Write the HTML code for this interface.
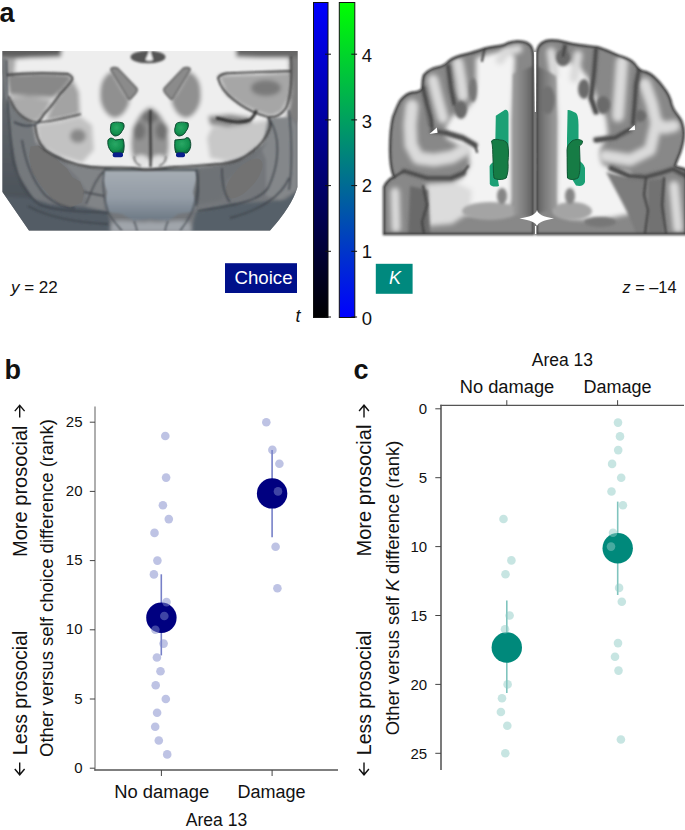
<!DOCTYPE html>
<html><head><meta charset="utf-8"><style>
html,body{margin:0;padding:0;background:#fff;width:685px;height:830px;overflow:hidden}
svg{display:block}
text{font-family:"Liberation Sans", sans-serif;fill:#111}
</style></head><body>
<svg width="685" height="830" viewBox="0 0 685 830">
<defs>
<clipPath id="clL"><path d="M2.5,51 H297.5 V187 Q292,206 270,230.5 H29 L2.5,192 Z"/></clipPath>
<filter id="b4" x="-20%" y="-20%" width="140%" height="140%"><feGaussianBlur stdDeviation="3.5"/></filter>
<filter id="b2" x="-20%" y="-20%" width="140%" height="140%"><feGaussianBlur stdDeviation="2"/></filter>
<filter id="b15" x="-20%" y="-20%" width="140%" height="140%"><feGaussianBlur stdDeviation="1.4"/></filter>
<filter id="b1" x="-20%" y="-20%" width="140%" height="140%"><feGaussianBlur stdDeviation="0.8"/></filter>
<filter id="b05" x="-20%" y="-20%" width="140%" height="140%"><feGaussianBlur stdDeviation="0.5"/></filter>
<linearGradient id="bgL" x1="0" y1="0" x2="0" y2="1"><stop offset="0" stop-color="#a6adb4"/><stop offset="0.55" stop-color="#939ca6"/><stop offset="1" stop-color="#6c7884"/></linearGradient>
<radialGradient id="grL" cx="0.45" cy="0.4" r="0.6"><stop offset="0" stop-color="#2aa865"/><stop offset="0.7" stop-color="#13914f"/><stop offset="1" stop-color="#0c6e3e"/></radialGradient>
<linearGradient id="lsL" x1="0" y1="0" x2="0" y2="1"><stop offset="0" stop-color="#77797c"/><stop offset="0.35" stop-color="#5f6469"/><stop offset="1" stop-color="#4a5158"/></linearGradient>
</defs>
<g clip-path="url(#clL)">
<rect x="0" y="49" width="300" height="184" fill="#74777b"/>
<g filter="url(#b2)">
<path d="M-5,45 H305 V60 L290,62 L290,118 L272,120 L268,140 L246,156 L222,164 L150,170 L100,168 L75,166 L50,154 L36,140 L34,124 L9,100 L-5,100 Z" fill="#eeeeee"/>
<path d="M-5,45 L62,45 L61,57 L30,58 L-5,60 Z" fill="#5f5f5f"/>
<path d="M236,45 L305,45 L305,58 L262,58 L236,57 Z" fill="#666"/>
<path d="M-5,58 L16,58 L14,75 L-5,75 Z" fill="#a8a8a8"/>
<path d="M289,57 L305,57 L305,125 L286,118 L290,100 Z" fill="#7e7e7e"/>
<path d="M6,74 L40,73 L68,74 L73,78 L62,91 L53,98 L30,96 L9,95 Z" fill="#888888"/>
<path d="M9,97 L30,96 L52,100 L46,112 L38,122 L28,121 L15,112 Z" fill="#aaaaaa"/>
<path d="M54,101 L62,92 L73,80 L79,92 L80,114 L65,118 L45,121 Z" fill="#a3a3a3"/>
<path d="M36,124 L60,121 L80,116 L92,125 L94,150 L82,163 L55,155 L38,143 Z" fill="#c2c2c2"/>
<ellipse cx="78" cy="136" rx="8" ry="7" fill="#888"/>
<path d="M218,75 L258,74 L291,72 L292,94 L282,112 L271,117 L256,112 L241,105 L226,94 Z" fill="#a6a6a6"/>
<ellipse cx="266" cy="88" rx="15" ry="8" fill="#7a7a7a"/>
<path d="M208,116 L230,114 L250,117 L252,124 L228,127 L210,125 Z" fill="#8a8a8a"/>
<path d="M212,127 L232,127 L250,123 L268,120 L272,128 L266,142 L248,154 L226,161 L210,158 L207,138 Z" fill="#c8c8c8"/>
<path d="M104,78 C108,72 112,70 114,74 C118,82 124,92 130,100 C128,110 122,118 114,118 C106,116 100,106 100,96 C100,88 101,82 104,78 Z" fill="#909090"/>
<path d="M197,78 C193,72 189,70 187,74 C183,82 177,92 171,100 C173,110 179,118 187,118 C195,116 201,106 201,96 C201,88 200,82 197,78 Z" fill="#909090"/>
<path d="M150,107 C142,110 136,118 133,130 C130,142 131,152 134,160 L166,160 C169,152 170,142 167,130 C164,118 158,110 150,107 Z" fill="#939393"/>
<ellipse cx="139" cy="131" rx="6.5" ry="9" fill="#727272"/>
<ellipse cx="162" cy="131" rx="6.5" ry="9" fill="#727272"/>
<ellipse cx="150" cy="117" rx="8" ry="6" fill="#707070"/>
<ellipse cx="141" cy="161" rx="8" ry="6" fill="#e2e2e2"/>
<ellipse cx="159" cy="161" rx="8" ry="6" fill="#e2e2e2"/>
</g>
<g filter="url(#b15)">
<path d="M-5,58 L6,58 L7,100 L11,140 L18,175 L34,200 L-5,205 Z" fill="url(#lsL)"/>
<path d="M9,100 L16,112 L30,124 L34,140 L30,150 L36,175 L48,195 L34,200 L20,175 L12,140 Z" fill="#75797d"/>
<path d="M38,145 L55,157 L80,166 L106,170 L104,210 L86,206 L86,190 L78,178 L60,160 Z" fill="#818487"/>
<path d="M40,150 L52,158 L70,166 L60,158 Z" fill="#686b6e"/>
<path d="M-5,195 L30,198 L50,204 L85,207 L108,212 L112,235 L-5,235 Z" fill="#535c65"/>
<path d="M268,118 L290,118 L297,125 L297,190 L280,200 L266,196 L266,160 L262,150 Z" fill="#84878a"/>
<path d="M268,142 L246,158 L222,166 L196,170 L194,205 L222,200 L226,180 L250,164 Z" fill="#6e7276"/>
<path d="M305,185 L285,200 L260,202 L230,204 L196,212 L190,235 L305,235 Z" fill="#566069"/>
</g>
<g filter="url(#b05)">
<path d="M30.5,146.4 L38.5,145.6 L53,156 L67.4,169 L72.3,177 L80.3,181.8 L84.3,191.4 L82,202.6 L70.7,207.4 L61,205.8 L51.4,197.8 L41.8,186.6 L32,172 L29,156 Z" fill="#727272"/>
<ellipse cx="244" cy="178.5" rx="25" ry="11" transform="rotate(-48 244 178.5)" fill="#727272"/>
</g>
<path d="M104,170 L198,170 L196,180 L193,192 L196,204 L192,212 L178,214 L168,221 L150,219 L134,221 L122,214 L108,212 L105,204 L107,192 L103,180 Z" fill="url(#bgL)" filter="url(#b1)"/>
<path d="M112,222 C125,218 140,224 150,221 C160,224 178,218 190,222 L192,232 L110,232 Z" fill="#a0a5ab" filter="url(#b2)"/>
<g filter="url(#b1)">
<path d="M111,68.5 C113,67 116,67.5 118,68.5 L136.5,88 C138,90 137,92 135,94 L131,98.5 C129,100 128,99 127.5,97.5 L112,72 C111,71 110.5,69.5 111,68.5 Z" fill="#8b8b8b" stroke="#555" stroke-width="1.4"/>
<path d="M190,68.5 C188,67 185,67.5 183,68.5 L164.5,88 C163,90 164,92 166,94 L170,98.5 C172,100 173,99 173.5,97.5 L189,72 C190,71 190.5,69.5 190,68.5 Z" fill="#8b8b8b" stroke="#555" stroke-width="1.4"/>
<ellipse cx="148" cy="57" rx="17.5" ry="6.3" fill="#555"/>
<path d="M145.5,60 C146.5,57 148.5,54 149.3,50 L150.3,50 C150.8,54 152.5,57 153,60 C151,61 147.5,61 145.5,60 Z" fill="#f4f4f4"/>
<path d="M150.5,110 C150,130 151,150 150.5,167" stroke="#333" stroke-width="2.2" fill="none"/>
<path d="M141,166 C136,164 134,160 134,156 M159,166 C164,164 166,160 166,156" stroke="#555" stroke-width="1.2" fill="none"/>
<path d="M104,170 L198,170 M104,170 C102,185 104,200 108,212 M198,170 C199,185 196,200 192,212 M108,212 C112,220 118,226 122,231 M134,221 C136,226 137,229 137,232 M168,221 C166,226 165,229 165,232 M192,212 C188,220 184,226 180,231" fill="none" stroke="#464c52" stroke-width="1.3"/>
<path d="M35,124 C36,135 38,143 45,150 C55,157 68,164 90,167 C110,169 125,166 140,169 C150,171 160,168 175,167 C190,167 205,165 222,164 C232,163 240,160 246,156 C256,150 265,142 270,128 C271,121 270,119 268,118" fill="none" stroke="#3a3a3a" stroke-width="1.9"/>
<path d="M6,75 C25,73 50,73 68,74 C72,76 73,78 72,80 C68,86 64,90 60,94 C56,100 50,108 44,114 C42,118 40,120 38,122" fill="none" stroke="#3e3e3e" stroke-width="1.8"/>
<path d="M9,96 C12,106 18,116 30,121 C36,123 45,122 55,120 C65,118 74,116 81,114" fill="none" stroke="#424242" stroke-width="1.6"/>
<path d="M6.5,60 C6.5,90 9,130 13,160 C18,180 26,195 40,205 C60,212 85,211 108,213 M28,206 C45,216 70,222 108,224 M40,122 C30,128 22,126 14,122 M22,140 C25,160 32,180 45,195 C55,204 65,208 75,208" fill="none" stroke="#3b4148" stroke-width="1.4"/>
<path d="M86,204 C92,190 96,178 104,171 M84,192 L104,196" fill="none" stroke="#42464b" stroke-width="1.3"/>
<path d="M291,56 C292,75 292,95 286,108 C282,114 276,118 268,117 C256,114 244,108 234,100 C226,94 220,86 218,78 C220,74 226,73 232,73 C250,72 270,72 291,71" fill="none" stroke="#3c3c3c" stroke-width="1.8"/>
<path d="M216,118 C228,121 240,124 250,120 C254,116 256,112 256,110" fill="none" stroke="#333" stroke-width="3"/>
<path d="M270,120 C282,140 278,168 268,188 C258,202 235,205 198,211 M289,178 C282,195 262,210 230,218 M196,170 C200,185 198,200 196,206 M289,110 C292,140 292,170 289,190 M222,168 C222,180 224,195 230,202" fill="none" stroke="#3d434a" stroke-width="1.4"/>
</g>
<g stroke="#0b4a30" stroke-width="1" fill="url(#grL)" filter="url(#b05)">
<path d="M111,124 C112,122 118,121.5 123,123 C125,125 124,129 122,131 C121,134 118,136 115,136 C111,135 110,131 110.5,128 Z"/>
<path d="M108,140 C110,137 113,138 115,140 L123,139 C124.5,142 124.5,150 123,153 L113,153 C110,151 107,146 108,140 Z"/>
<path d="M176,124 C177,122 183,121.5 188,123 C189,125 188,129 186,131 C185,134 182,136 179,136 C175,135 174,131 175,128 Z"/>
<path d="M175,140 L185,139 C186,137 189,137 190,140 C191.5,144 191,150 187,153 L176,153 C174.5,150 174.5,144 175,140 Z"/>
</g>
<rect x="112.7" y="152.5" width="10.3" height="4.8" rx="2" fill="#0a1e8c"/>
<rect x="176" y="152.5" width="9" height="4.8" rx="2" fill="#0a1e8c"/>
</g>
<defs>
<clipPath id="clR"><path d="M384,234 L384,187 C387,181 391,178 394,177 C391,170 390,160 390,150 C390,135 391,125 393,117 C395,112 397,106 400,101 C404,96 408,93 413,92.5 C417,92.3 420,92 422,89 C423,84 422,79 424,75 C427,71 432,68.5 438,67.2 C443,66.5 446,64 449,61 C453,58 458,56 465,54.5 C472,53 478,51 485,48.5 C492,46.5 499,46.5 504,45 C507,43 511,41.5 517,41.2 C523,41 529,43 531.5,47 C533,50 533.4,53 533.4,56 L533.4,234 Z"/><path d="M536.7,234 L536.7,54 C537,48 540,43 546,41 C551,39.5 557,40 566,42.5 C575,45 586,46 596,47 C605,49 612,53 620,56 C627,58.5 633,60 637,67 C639,70 642,71.5 646,72 C652,74 658,80 663.8,88 C667,92 670,96 671.5,104 C673,110 676,113 679,117 C682,121 683.5,126 684,133 C684,140 682,147 680,153 C678,158 676,162 675,166 C678,168 683,168 686,170 L686,234 Z"/></clipPath>
<filter id="r3" x="-20%" y="-20%" width="140%" height="140%"><feGaussianBlur stdDeviation="2.6"/></filter>
<filter id="r2" x="-20%" y="-20%" width="140%" height="140%"><feGaussianBlur stdDeviation="1.8"/></filter>
<linearGradient id="mgL" x1="0" y1="0" x2="1" y2="0"><stop offset="0" stop-color="#9c9c9c"/><stop offset="0.6" stop-color="#7a7a7a"/><stop offset="1" stop-color="#5e5e5e"/></linearGradient>
<linearGradient id="mgR" x1="0" y1="0" x2="1" y2="0"><stop offset="0" stop-color="#5e5e5e"/><stop offset="0.4" stop-color="#7a7a7a"/><stop offset="1" stop-color="#9c9c9c"/></linearGradient>
<filter id="r25" x="-20%" y="-20%" width="140%" height="140%"><feGaussianBlur stdDeviation="2.6"/></filter>
<filter id="r1" x="-20%" y="-20%" width="140%" height="140%"><feGaussianBlur stdDeviation="1"/></filter>
<filter id="r05" x="-20%" y="-20%" width="140%" height="140%"><feGaussianBlur stdDeviation="0.6"/></filter>
</defs>
<g clip-path="url(#clR)">
<rect x="380" y="35" width="306" height="200" fill="#888888"/>
<g filter="url(#r3)">
<path d="M476,58 L490,54 L502,52 L510,50 L515,58 L514,80 L512,120 L512,200 L508,212 L490,214 L470,214 L452,220 L436,216 L432,200 L444,186 L462,178 L470,165 L468,152 L458,145 L446,138 L446,126 L452,116 L466,110 L474,100 L476,80 Z" fill="#f3f3f3"/>
<path d="M552,56 L560,64 L570,62 L580,68 L590,80 L596,96 L606,118 L608,134 L600,150 L602,164 L614,170 L628,172 L640,184 L640,200 L630,214 L610,218 L590,220 L570,218 L558,212 L556,200 L557,120 L555,80 Z" fill="#f3f3f3"/>
<path d="M426,184 L455,182 L472,190 L470,212 L452,224 L428,226 Z" fill="#dcdcdc"/>
</g>
<g filter="url(#r25)" stroke-linecap="round" stroke-linejoin="round" fill="none" stroke="#dadada">
<path d="M412,106 L410,125 L411,145 L418,158 L434,160 L452,157 L464,150" stroke-width="13"/>
<path d="M433,80 L438,100 L443,118" stroke-width="11"/>
<path d="M458,63 L461,80 L463,96" stroke-width="11"/>
<path d="M500,60 L506,52 L518,49" stroke-width="9"/>
<path d="M395,192 L396,228" stroke-width="9"/>
<path d="M551,52 L554,74" stroke-width="9"/>
<path d="M578,55 L574,78" stroke-width="9"/>
<path d="M622,62 L620,90 L618,116" stroke-width="12"/>
<path d="M645,84 L652,104 L656,122 L664,128 L674,126 M656,124 L650,150 L630,160 L605,156" stroke-width="12"/>
<path d="M674,186 L678,228" stroke-width="10"/>
</g>
<g filter="url(#r2)">
<ellipse cx="490" cy="211" rx="28" ry="9" fill="#a4a4a4"/>
<ellipse cx="572" cy="211" rx="20" ry="9" fill="#a4a4a4"/>
<ellipse cx="600" cy="222" rx="16" ry="5" fill="#777"/>
<path d="M513,74 L533.4,66 L533.4,218 L513,214 Z" fill="url(#mgL)"/>
<path d="M536.7,66 L556,76 L556,208 L536.7,214 Z" fill="url(#mgR)"/>
<ellipse cx="548" cy="100" rx="7" ry="14" fill="#727272"/>
<ellipse cx="563" cy="58" rx="7" ry="8" fill="#686868"/>
<ellipse cx="584" cy="89" rx="6" ry="10" fill="#6a6a6a"/>
<ellipse cx="603" cy="105" rx="7" ry="9" fill="#6a6a6a"/>
<ellipse cx="461" cy="110" rx="6" ry="9" fill="#6a6a6a"/>
<ellipse cx="473" cy="90" rx="4" ry="12" fill="#777"/>
<ellipse cx="640" cy="116" rx="6" ry="6" fill="#6a6a6a"/>
<path d="M410,186 L428,190 L430,234 L408,234 Z" fill="#6a6a6a"/>
<path d="M606,172 C620,176 635,178 646,179 L647,234 L636,234 C630,215 618,195 606,172 Z" fill="#7c7c7c"/>
<path d="M648,180 L664,178 L664,234 L648,234 Z" fill="#727272"/>
<ellipse cx="502" cy="196" rx="5" ry="8" fill="#858585"/>
<ellipse cx="570" cy="196" rx="5" ry="8" fill="#858585"/>
</g>
<g filter="url(#r2)" stroke="#6a6a6a" stroke-linecap="round" stroke-linejoin="round" fill="none" stroke-width="6">
<path d="M423,88 L427,105 L431,125 M448,66 L451,90 L455,104 L461,112 M432,131 L446,133 L463,138 L475,145 M404,171 L427,178 L451,178 L463,173"/>
<path d="M565,46 L563,56 M596,50 L594,74 L591,98 L596,112 M639,70 L636,84 L634.6,105 L633,124 M630,130 L615,137.7 L596,140 M611,168 L629,176 L646,177 L661,173 L673,169 L686,176"/>
</g>
<g filter="url(#r1)" stroke="#454545" stroke-linecap="round" stroke-linejoin="round" fill="none" stroke-width="2.2">
<path d="M423,88 L427,105 L431,118 L432,128 M448,66 L451,88 L454,104 M484.5,48 L482,61 M432,131 L446,133 L463,138 L475,145 L477,152 M394,177 L404,171 L427,178 L451,178 L463,173 L468,166 M423,186 L427,205 L422,222 L424,234"/>
<path d="M565,46 L563,56 M596,49 L594,74 L591,98 L596,112 M639,70 L636,84 L634.6,105 L633,124 M630,129 L615,137.7 L596,140 M611,168 L629,176 L646,177 L661,173 L673,169 L686,176 M646,178 L644,195 L648,210 L645,234 M664,178 L662,205 L666,234"/>
</g>
</g>
<g filter="url(#r1)" fill="none" stroke="#404040" stroke-width="2.4"><path d="M384,234 L384,187 C387,181 391,178 394,177 C391,170 390,160 390,150 C390,135 391,125 393,117 C395,112 397,106 400,101 C404,96 408,93 413,92.5 C417,92.3 420,92 422,89 C423,84 422,79 424,75 C427,71 432,68.5 438,67.2 C443,66.5 446,64 449,61 C453,58 458,56 465,54.5 C472,53 478,51 485,48.5 C492,46.5 499,46.5 504,45 C507,43 511,41.5 517,41.2 C523,41 529,43 531.5,47 C533,50 533.4,53 533.4,56 L533.4,234 Z"/><path d="M536.7,234 L536.7,54 C537,48 540,43 546,41 C551,39.5 557,40 566,42.5 C575,45 586,46 596,47 C605,49 612,53 620,56 C627,58.5 633,60 637,67 C639,70 642,71.5 646,72 C652,74 658,80 663.8,88 C667,92 670,96 671.5,104 C673,110 676,113 679,117 C682,121 683.5,126 684,133 C684,140 682,147 680,153 C678,158 676,162 675,166 C678,168 683,168 686,170 L686,234 Z"/></g>
<g fill="#fff" filter="url(#r05)">
<path d="M537,210 C538,214 543,217 554,218.5 C543,220 538,223 537,226 C536,223 531,220 519.5,218.5 C531,217 536,214 537,210 Z"/>
<path d="M534,52 L536.2,52 L536,112 L534.8,112 Z"/>
<path d="M535,226 L536.3,226 L536.3,234 L535,234 Z"/>
<path d="M429.5,134 L436.8,127.6 L437.6,132.8 Z"/>
<path d="M628.5,130.5 L634.8,125 L635,130 Z"/>
</g>
<g filter="url(#r05)">
<path d="M495.8,115.8 L505,109.8 C507,109.3 508.5,111 508.5,114 L508.5,150 L507,178 L498,180 L499,186 C496,187 491,187 489.8,184 L489.6,166 C491,163 494,162 495,160 Z" fill="#1aa074"/>
<path d="M491.5,141 C493,139 497,139 500,140 C503,140 506,141 507.5,144 C509,150 508.5,156 508,162 C508.5,168 508,174 506,178 C503,180 497,180 494,178 C493,172 493.5,166 493,160 C492.5,152 493,146 491.5,141 Z" fill="#197c44" stroke="#0e5130" stroke-width="0.9"/>
<path d="M567.6,110 C569,109.5 573,111 576,113 C578,115 578.5,120 578.5,125 L578.5,160 C581,162 584,164 585,168 L585,182 C584,186 580,186.5 576,185.5 L572,179 L567,178 L567,140 Z" fill="#1aa074"/>
<path d="M572,141 C575,139 580,139 582.5,141 C583,143 581,145 579.5,146 L580,160 C580,168 580,174 578,178 C574,180 570,180 567.5,178 C567,170 567.3,160 567,150 C567,146 569,144 572,141 Z" fill="#197c44" stroke="#0e5130" stroke-width="0.9"/>
</g>
<defs><linearGradient id="gb" x1="0" y1="1" x2="0" y2="0"><stop offset="0" stop-color="#000000"/><stop offset="1" stop-color="#0000ff"/></linearGradient><linearGradient id="gg" x1="0" y1="1" x2="0" y2="0"><stop offset="0" stop-color="#0000ff"/><stop offset="1" stop-color="#00ff00"/></linearGradient></defs>
<rect x="313.5" y="2.5" width="14.5" height="315" fill="url(#gb)" stroke="#111" stroke-width="1"/>
<rect x="339.3" y="2.5" width="15.5" height="315" fill="url(#gg)" stroke="#111" stroke-width="1"/>
<line x1="325" y1="317.0" x2="331" y2="317.0" stroke="#111" stroke-width="1"/>
<line x1="351.3" y1="317.0" x2="357.1" y2="317.0" stroke="#111" stroke-width="1"/>
<text x="361.8" y="324.5" font-size="18.5">0</text>
<line x1="325" y1="251.3" x2="331" y2="251.3" stroke="#111" stroke-width="1"/>
<line x1="351.3" y1="251.3" x2="357.1" y2="251.3" stroke="#111" stroke-width="1"/>
<text x="361.8" y="258.3" font-size="18.5">1</text>
<line x1="325" y1="185.6" x2="331" y2="185.6" stroke="#111" stroke-width="1"/>
<line x1="351.3" y1="185.6" x2="357.1" y2="185.6" stroke="#111" stroke-width="1"/>
<text x="361.8" y="192.0" font-size="18.5">2</text>
<line x1="325" y1="119.9" x2="331" y2="119.9" stroke="#111" stroke-width="1"/>
<line x1="351.3" y1="119.9" x2="357.1" y2="119.9" stroke="#111" stroke-width="1"/>
<text x="361.8" y="127.9" font-size="18.5">3</text>
<line x1="325" y1="54.2" x2="331" y2="54.2" stroke="#111" stroke-width="1"/>
<line x1="351.3" y1="54.2" x2="357.1" y2="54.2" stroke="#111" stroke-width="1"/>
<text x="361.8" y="62.4" font-size="18.5">4</text>
<text x="295.5" y="321.6" font-size="18" font-style="italic">t</text>
<rect x="225" y="263.2" width="72" height="29.8" fill="#00108a"/>
<text x="263.5" y="284.3" text-anchor="middle" font-size="18.5" style="fill:#fff" textLength="58" lengthAdjust="spacingAndGlyphs">Choice</text>
<rect x="375.8" y="263.8" width="36.8" height="30" fill="#00897e"/>
<text x="395" y="284" text-anchor="middle" font-size="18" style="fill:#fff" font-style="italic">K</text>
<text x="11" y="293" font-size="17"><tspan font-style="italic">y</tspan> = 22</text>
<text x="622.5" y="292.9" font-size="17" textLength="54" lengthAdjust="spacingAndGlyphs"><tspan font-style="italic">z</tspan> = –14</text>
<text x="-0.5" y="22.4" font-size="27" font-weight="bold">a</text>
<line x1="95" y1="406.6" x2="95" y2="770.5" stroke="#9a9a9a" stroke-width="1.6"/>
<line x1="94.2" y1="770" x2="338" y2="770" stroke="#555" stroke-width="1.3"/>
<line x1="89.8" y1="768.2" x2="95" y2="768.2" stroke="#444" stroke-width="1"/>
<text x="82.5" y="772.8" text-anchor="end" font-size="15">0</text>
<line x1="89.8" y1="699.0" x2="95" y2="699.0" stroke="#444" stroke-width="1"/>
<text x="82.5" y="703.6" text-anchor="end" font-size="15">5</text>
<line x1="89.8" y1="629.8" x2="95" y2="629.8" stroke="#444" stroke-width="1"/>
<text x="82.5" y="634.4" text-anchor="end" font-size="15">10</text>
<line x1="89.8" y1="560.6" x2="95" y2="560.6" stroke="#444" stroke-width="1"/>
<text x="82.5" y="565.2" text-anchor="end" font-size="15">15</text>
<line x1="89.8" y1="491.4" x2="95" y2="491.4" stroke="#444" stroke-width="1"/>
<text x="82.5" y="496.0" text-anchor="end" font-size="15">20</text>
<line x1="89.8" y1="422.2" x2="95" y2="422.2" stroke="#444" stroke-width="1"/>
<text x="82.5" y="426.8" text-anchor="end" font-size="15">25</text>
<line x1="161.4" y1="770" x2="161.4" y2="776" stroke="#444" stroke-width="1"/>
<line x1="272.1" y1="770" x2="272.1" y2="776" stroke="#444" stroke-width="1"/>
<text x="161.7" y="797.7" text-anchor="middle" font-size="18" textLength="95" lengthAdjust="spacingAndGlyphs">No damage</text>
<text x="271.6" y="797.7" text-anchor="middle" font-size="18">Damage</text>
<text x="216.5" y="825.8" text-anchor="middle" font-size="17.5">Area 13</text>
<line x1="161.3" y1="574.3" x2="161.3" y2="655.4" stroke="#7780c8" stroke-width="1.6"/>
<line x1="272.1" y1="449.9" x2="272.1" y2="537.2" stroke="#7780c8" stroke-width="1.6"/>
<circle cx="161.4" cy="617.8" r="15.2" fill="#000080"/>
<circle cx="272.1" cy="493.4" r="15.2" fill="#000080"/>
<circle cx="165.3" cy="436.0" r="4.3" fill="#7d87c9" fill-opacity="0.5"/>
<circle cx="166.1" cy="477.6" r="4.3" fill="#7d87c9" fill-opacity="0.5"/>
<circle cx="162.9" cy="505.2" r="4.3" fill="#7d87c9" fill-opacity="0.5"/>
<circle cx="168.8" cy="519.1" r="4.3" fill="#7d87c9" fill-opacity="0.5"/>
<circle cx="154.5" cy="532.9" r="4.3" fill="#7d87c9" fill-opacity="0.5"/>
<circle cx="157.4" cy="560.6" r="4.3" fill="#7d87c9" fill-opacity="0.5"/>
<circle cx="153.9" cy="574.4" r="4.3" fill="#7d87c9" fill-opacity="0.5"/>
<circle cx="166.5" cy="602.1" r="4.3" fill="#7d87c9" fill-opacity="0.5"/>
<circle cx="164.3" cy="616.0" r="4.3" fill="#7d87c9" fill-opacity="0.5"/>
<circle cx="155.4" cy="629.8" r="4.3" fill="#7d87c9" fill-opacity="0.5"/>
<circle cx="163.6" cy="643.6" r="4.3" fill="#7d87c9" fill-opacity="0.5"/>
<circle cx="156.9" cy="657.5" r="4.3" fill="#7d87c9" fill-opacity="0.5"/>
<circle cx="160.5" cy="671.3" r="4.3" fill="#7d87c9" fill-opacity="0.5"/>
<circle cx="155.7" cy="685.2" r="4.3" fill="#7d87c9" fill-opacity="0.5"/>
<circle cx="165.8" cy="699.0" r="4.3" fill="#7d87c9" fill-opacity="0.5"/>
<circle cx="157.1" cy="712.8" r="4.3" fill="#7d87c9" fill-opacity="0.5"/>
<circle cx="155.2" cy="726.7" r="4.3" fill="#7d87c9" fill-opacity="0.5"/>
<circle cx="158.8" cy="740.5" r="4.3" fill="#7d87c9" fill-opacity="0.5"/>
<circle cx="167.2" cy="754.4" r="4.3" fill="#7d87c9" fill-opacity="0.5"/>
<circle cx="266.3" cy="422.2" r="4.3" fill="#7d87c9" fill-opacity="0.5"/>
<circle cx="272.4" cy="449.9" r="4.3" fill="#7d87c9" fill-opacity="0.5"/>
<circle cx="279.4" cy="463.7" r="4.3" fill="#7d87c9" fill-opacity="0.5"/>
<circle cx="278" cy="491.4" r="4.3" fill="#7d87c9" fill-opacity="0.5"/>
<circle cx="275.6" cy="546.8" r="4.3" fill="#7d87c9" fill-opacity="0.5"/>
<circle cx="277.4" cy="588.3" r="4.3" fill="#7d87c9" fill-opacity="0.5"/>
<text transform="translate(27.2,557) rotate(-90)" font-size="20" textLength="131.5" lengthAdjust="spacingAndGlyphs">More prosocial</text>
<text transform="translate(27.2,755.2) rotate(-90)" font-size="20" textLength="124.5" lengthAdjust="spacingAndGlyphs">Less prosocial</text>
<path d="M19.7,417.6 L19.7,405.3 M14.799999999999999,411.09999999999997 L19.7,405.3 L24.6,411.09999999999997" fill="none" stroke="#111" stroke-width="1.4"/>
<path d="M19.7,762.4 L19.7,774.8 M14.799999999999999,769.0 L19.7,774.8 L24.6,769.0" fill="none" stroke="#111" stroke-width="1.4"/>
<text transform="translate(53.3,757) rotate(-90)" font-size="18" textLength="338" lengthAdjust="spacingAndGlyphs">Other versus self choice difference (rank)</text>
<text x="4.5" y="379.3" font-size="27" font-weight="bold">b</text>
<line x1="441" y1="404.7" x2="441" y2="770" stroke="#333" stroke-width="1.3"/>
<line x1="440.4" y1="405.3" x2="684" y2="405.3" stroke="#555" stroke-width="1.3"/>
<line x1="435.3" y1="408.8" x2="441" y2="408.8" stroke="#444" stroke-width="1"/>
<text x="427.2" y="414.2" text-anchor="end" font-size="15">0</text>
<line x1="435.3" y1="477.7" x2="441" y2="477.7" stroke="#444" stroke-width="1"/>
<text x="427.2" y="483.1" text-anchor="end" font-size="15">5</text>
<line x1="435.3" y1="546.6" x2="441" y2="546.6" stroke="#444" stroke-width="1"/>
<text x="427.2" y="552.0" text-anchor="end" font-size="15">10</text>
<line x1="435.3" y1="615.5" x2="441" y2="615.5" stroke="#444" stroke-width="1"/>
<text x="427.2" y="620.9" text-anchor="end" font-size="15">15</text>
<line x1="435.3" y1="684.4" x2="441" y2="684.4" stroke="#444" stroke-width="1"/>
<text x="427.2" y="689.8" text-anchor="end" font-size="15">20</text>
<line x1="435.3" y1="753.3" x2="441" y2="753.3" stroke="#444" stroke-width="1"/>
<text x="427.2" y="758.7" text-anchor="end" font-size="15">25</text>
<line x1="506.8" y1="400.2" x2="506.8" y2="405.3" stroke="#444" stroke-width="1"/>
<line x1="617.6" y1="400.2" x2="617.6" y2="405.3" stroke="#444" stroke-width="1"/>
<text x="507" y="392.7" text-anchor="middle" font-size="18" textLength="94.5" lengthAdjust="spacingAndGlyphs">No damage</text>
<text x="617.6" y="392.7" text-anchor="middle" font-size="18">Damage</text>
<text x="562.4" y="366.2" text-anchor="middle" font-size="17.5">Area 13</text>
<line x1="506.8" y1="600.4" x2="506.8" y2="693" stroke="#80c4be" stroke-width="1.6"/>
<line x1="617.7" y1="501.6" x2="617.7" y2="595" stroke="#80c4be" stroke-width="1.6"/>
<circle cx="506.8" cy="647.5" r="15.2" fill="#00897b"/>
<circle cx="617.7" cy="548.3" r="15.2" fill="#00897b"/>
<circle cx="503.5" cy="519.0" r="4.3" fill="#8fcbc5" fill-opacity="0.5"/>
<circle cx="511.4" cy="560.4" r="4.3" fill="#8fcbc5" fill-opacity="0.5"/>
<circle cx="505.5" cy="574.2" r="4.3" fill="#8fcbc5" fill-opacity="0.5"/>
<circle cx="509.6" cy="615.5" r="4.3" fill="#8fcbc5" fill-opacity="0.5"/>
<circle cx="505" cy="629.3" r="4.3" fill="#8fcbc5" fill-opacity="0.5"/>
<circle cx="507.6" cy="684.4" r="4.3" fill="#8fcbc5" fill-opacity="0.5"/>
<circle cx="502" cy="698.2" r="4.3" fill="#8fcbc5" fill-opacity="0.5"/>
<circle cx="500.9" cy="712.0" r="4.3" fill="#8fcbc5" fill-opacity="0.5"/>
<circle cx="507.3" cy="725.7" r="4.3" fill="#8fcbc5" fill-opacity="0.5"/>
<circle cx="505.3" cy="753.3" r="4.3" fill="#8fcbc5" fill-opacity="0.5"/>
<circle cx="618" cy="422.6" r="4.3" fill="#8fcbc5" fill-opacity="0.5"/>
<circle cx="620" cy="436.4" r="4.3" fill="#8fcbc5" fill-opacity="0.5"/>
<circle cx="618.2" cy="450.1" r="4.3" fill="#8fcbc5" fill-opacity="0.5"/>
<circle cx="612.1" cy="463.9" r="4.3" fill="#8fcbc5" fill-opacity="0.5"/>
<circle cx="621.2" cy="477.7" r="4.3" fill="#8fcbc5" fill-opacity="0.5"/>
<circle cx="611.5" cy="491.5" r="4.3" fill="#8fcbc5" fill-opacity="0.5"/>
<circle cx="622.9" cy="505.3" r="4.3" fill="#8fcbc5" fill-opacity="0.5"/>
<circle cx="613" cy="532.8" r="4.3" fill="#8fcbc5" fill-opacity="0.5"/>
<circle cx="611" cy="546.6" r="4.3" fill="#8fcbc5" fill-opacity="0.5"/>
<circle cx="619.1" cy="587.9" r="4.3" fill="#8fcbc5" fill-opacity="0.5"/>
<circle cx="621.8" cy="601.7" r="4.3" fill="#8fcbc5" fill-opacity="0.5"/>
<circle cx="618" cy="643.1" r="4.3" fill="#8fcbc5" fill-opacity="0.5"/>
<circle cx="615" cy="656.8" r="4.3" fill="#8fcbc5" fill-opacity="0.5"/>
<circle cx="618.5" cy="670.6" r="4.3" fill="#8fcbc5" fill-opacity="0.5"/>
<circle cx="620.9" cy="739.5" r="4.3" fill="#8fcbc5" fill-opacity="0.5"/>
<text transform="translate(371.2,556.6) rotate(-90)" font-size="20" textLength="132" lengthAdjust="spacingAndGlyphs">More prosocial</text>
<text transform="translate(371.2,755.2) rotate(-90)" font-size="20" textLength="124.5" lengthAdjust="spacingAndGlyphs">Less prosocial</text>
<path d="M364,417.6 L364,405.20000000000005 M359.1,411.0 L364,405.20000000000005 L368.9,411.0" fill="none" stroke="#111" stroke-width="1.4"/>
<path d="M364,762.4 L364,774.8 M359.1,769.0 L364,774.8 L368.9,769.0" fill="none" stroke="#111" stroke-width="1.4"/>
<text transform="translate(398.8,735.2) rotate(-90)" font-size="18" textLength="294.5" lengthAdjust="spacingAndGlyphs">Other versus self <tspan font-style="italic">K</tspan> difference (rank)</text>
<text x="353.5" y="378.9" font-size="27" font-weight="bold">c</text>
</svg>
</body></html>
